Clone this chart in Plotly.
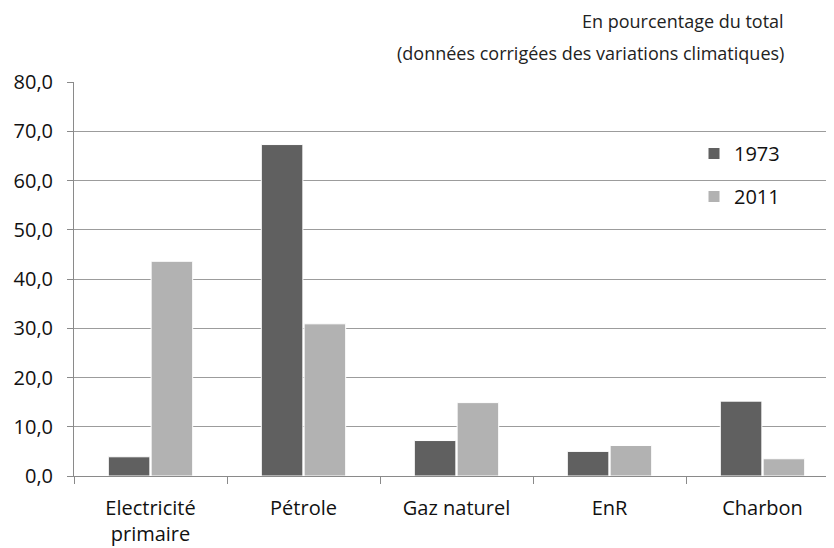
import plotly.graph_objects as go

categories = ["Electricité<br>primaire", "Pétrole", "Gaz naturel", "EnR", "Charbon"]
values_1973 = [3.9, 67.3, 7.2, 5.0, 15.2]
values_2011 = [43.6, 30.9, 14.9, 6.2, 3.5]
series_names = ["1973", "2011"]
tick_vals = [0, 10, 20, 30, 40, 50, 60, 70, 80]

FONT = "Open Sans"

# page body has an 8px margin: figure coordinates = viewport - 8
ML, MT, MR, MB = 66, 74, 3, 80
W, H = 834, 548
PW = W - ML - MR
PH = H - MT - MB

fig = go.Figure()
fig.add_trace(go.Bar(
    x=categories, y=values_1973, name=series_names[0], legendgroup="a",
    marker=dict(color="#606060", line=dict(color="#ffffff", width=1)),
))
fig.add_trace(go.Bar(
    x=categories, y=values_2011, name=series_names[1], legendgroup="b",
    marker=dict(color="#b2b2b2", line=dict(color="#ffffff", width=1)),
))

fig.update_layout(
    width=W, height=H,
    margin=dict(l=ML, r=MR, t=MT, b=MB, autoexpand=False),
    paper_bgcolor="white", plot_bgcolor="white",
    barmode="group", bargap=0.44, bargroupgap=0.03,
    separators=", ",
    font=dict(family=FONT, size=20, color="#111111"),
    showlegend=True,
    legend=dict(
        x=(694 - 8 - ML) / PW, y=1 - (126 - MT) / PH, xanchor="left", yanchor="top",
        bgcolor="rgba(0,0,0,0)", font=dict(size=20, family=FONT),
        traceorder="grouped", tracegroupgap=14, itemwidth=30,
    ),
    xaxis=dict(
        showgrid=False, showline=True, linecolor="#8a8a8a", linewidth=1,
        ticks="outside", tickson="boundaries", ticklen=7, tickcolor="#8a8a8a",
        tickfont=dict(size=20, family=FONT), ticklabelstandoff=14,
    ),
    yaxis=dict(
        range=[0, 80], tickvals=tick_vals, tickformat=".1f",
        showgrid=True, gridcolor="#9c9c9c", gridwidth=1,
        showline=True, linecolor="#8a8a8a", linewidth=1,
        ticks="outside", ticklen=6, tickcolor="#8a8a8a",
        tickfont=dict(size=20, family=FONT), ticklabelstandoff=10,
        zeroline=False,
    ),
    annotations=[
        dict(text="En pourcentage du total", xref="paper", yref="paper",
             x=(778 - ML) / PW, y=1 + (MT - 13) / PH, xanchor="right", yanchor="middle",
             showarrow=False, font=dict(size=18, family=FONT, color="#222222")),
        dict(text="(données corrigées des variations climatiques)", xref="paper", yref="paper",
             x=(778 - ML) / PW, y=1 + (MT - 45) / PH, xanchor="right", yanchor="middle",
             showarrow=False, font=dict(size=18, family=FONT, color="#222222")),
    ],
)

fig.write_html("out.html")
